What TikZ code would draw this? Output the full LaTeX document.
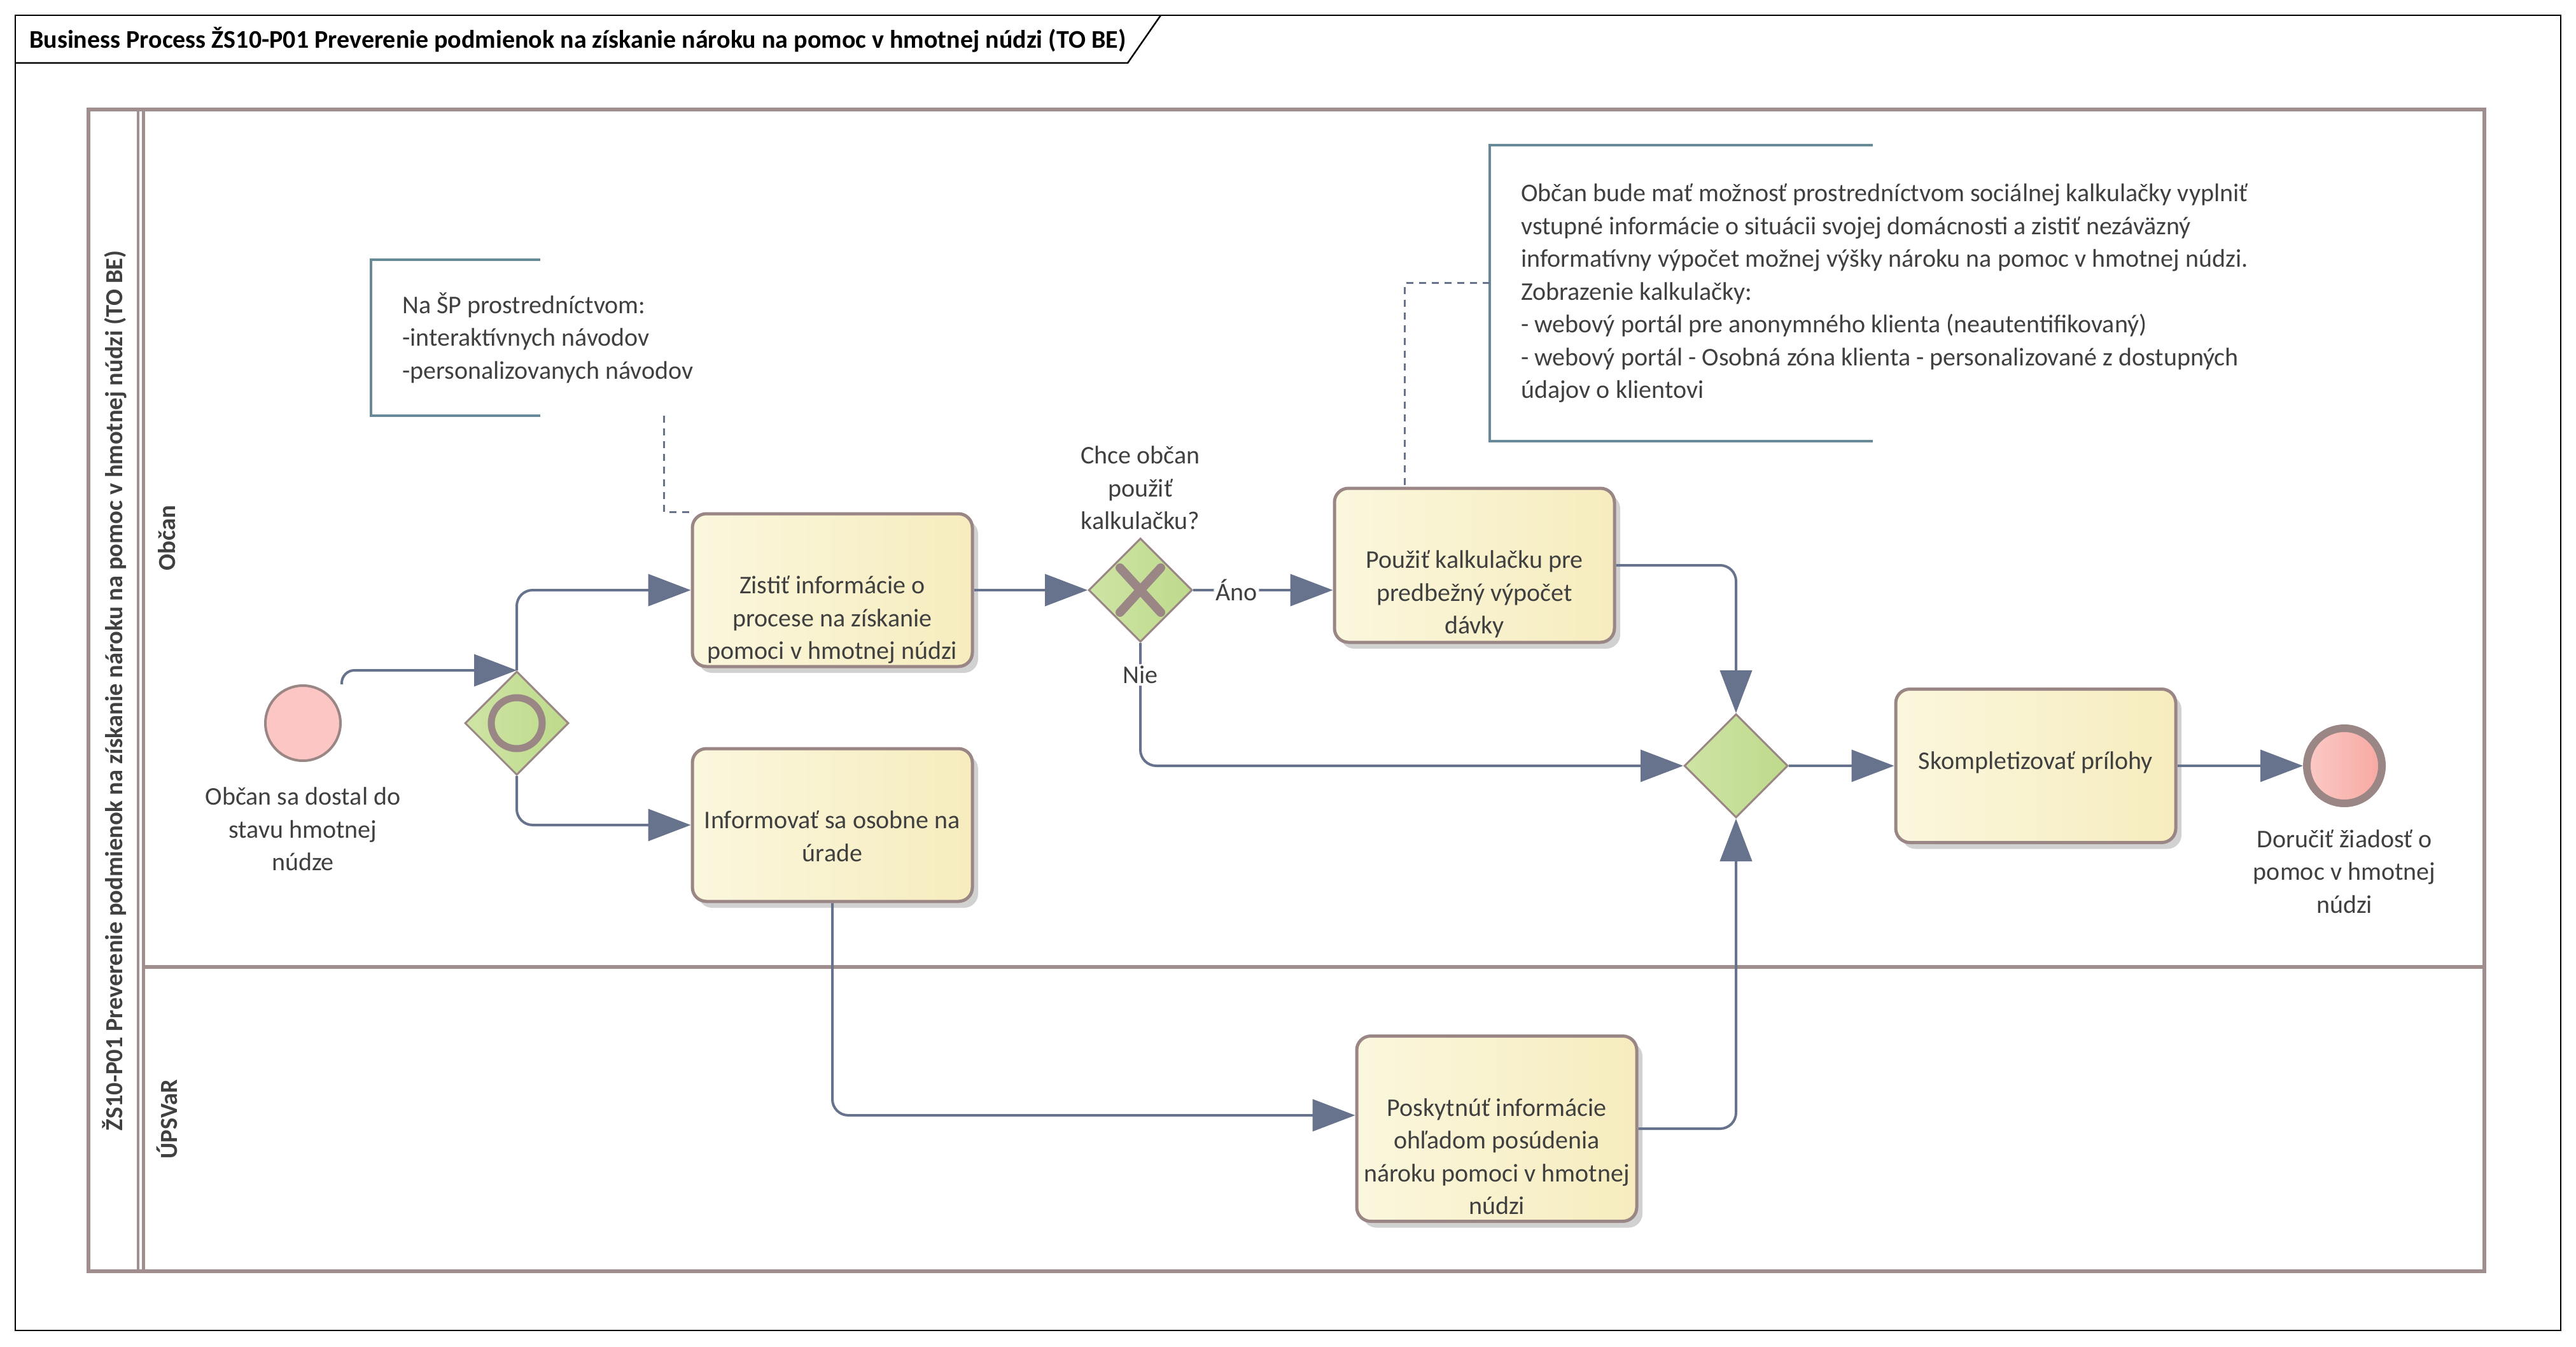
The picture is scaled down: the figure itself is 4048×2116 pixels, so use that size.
\documentclass[tikz,border=0pt]{standalone}
\usepackage{fontspec}
\setmainfont{Carlito}
\usetikzlibrary{arrows.meta,positioning,shapes.geometric,shadows}

\definecolor{flowline}{RGB}{103,114,140}
\definecolor{shapeline}{RGB}{155,134,134}
\definecolor{poolline}{RGB}{160,142,142}
\definecolor{noteline}{RGB}{104,138,152}
\definecolor{labeltext}{RGB}{64,64,64}
\definecolor{taskleft}{RGB}{251,247,221}
\definecolor{taskright}{RGB}{246,236,190}
\definecolor{gwleft}{RGB}{206,228,164}
\definecolor{gwright}{RGB}{190,218,140}
\definecolor{startfill}{RGB}{251,198,196}
\definecolor{endleft}{RGB}{251,202,198}
\definecolor{endright}{RGB}{247,168,162}

\tikzset{
  txt/.style={font=\fontsize{40}{51.5}\selectfont, text=labeltext},
  task/.style={draw=shapeline, line width=5pt, rounded corners=22pt, left color=taskleft, right color=taskright,
    minimum width=440pt, drop shadow={shadow xshift=9pt, shadow yshift=-10pt, fill=black!18, opacity=1}},
  tasktext/.style={txt, anchor=north, align=center, inner sep=0pt},
  gateway/.style={diamond, draw=shapeline, line width=3pt, left color=gwleft, right color=gwright,
    minimum size=163pt, inner sep=0pt},
  gwmark/.style={draw=shapeline, line width=11pt},
  evlabel/.style={txt, align=center, inner sep=0pt},
  flow/.style={draw=flowline, line width=4pt, rounded corners=25pt, -{Triangle[length=67pt, width=50pt]}},
  flowlabel/.style={txt, fill=white, inner sep=3pt},
  assoc/.style={draw=flowline, line width=3pt, dash pattern=on 11pt off 9pt},
  notebox/.style={txt, align=left, inner xsep=49pt, inner ysep=0pt, anchor=north west},
  notebrk/.style={draw=noteline, line width=4pt},
  poolbox/.style={draw=poolline, line width=6pt},
  lanename/.style={font=\fontsize{38.5}{46}\selectfont\bfseries, text=labeltext, rotate=90},
}

\begin{document}
\begin{tikzpicture}[x=1pt, y=-1pt]
  \useasboundingbox (0,0) rectangle (4048,2116);
  \fill[white] (0,0) rectangle (4048,2116);

  \draw[line width=2.5pt] (24,24) rectangle (4024,2090);
  \draw[line width=2.5pt] (24,99) -- (1772,99) -- (1824,24);
  \node[font=\fontsize{40}{46}\selectfont\bfseries, anchor=west, inner sep=0pt] (title) at (46,62)
    {Business Process ŽS10-P01 Preverenie podmienok na získanie nároku na pomoc v hmotnej núdzi (TO BE)};

  \draw[poolbox] (139,172) rectangle (3904,1997);
  \draw[poolbox, line width=4pt] (217,172) -- (217,1997);
  \draw[poolbox, line width=5pt] (225,172) -- (225,1997);
  \draw[poolbox] (225,1519) -- (3904,1519);
  \node[lanename] (poolname) at (180,1085)
    {ŽS10-P01 Preverenie podmienok na získanie nároku na pomoc v hmotnej núdzi (TO BE)};
  \node[lanename] (obcan) at (262,845) {Občan};
  \node[lanename] (upsvar) at (262,1758) {ÚPSVaR};

  \node[notebox, minimum height=245pt] (note1) at (583,408)
    {Na ŠP prostredníctvom:\\-interaktívnych návodov\\-personalizovanych návodov};
  \draw[notebrk] ([xshift=266pt]note1.north west) -- (note1.north west) -- (note1.south west)
    -- ([xshift=266pt]note1.south west);
  \node[notebox, minimum height=465pt] (note2) at (2341,228)
    {Občan bude mať možnosť prostredníctvom sociálnej kalkulačky vyplniť\\
     vstupné informácie o situácii svojej domácnosti a zistiť nezáväzný\\
     informatívny výpočet možnej výšky nároku na pomoc v hmotnej núdzi.\\
     Zobrazenie kalkulačky:\\
     - webový portál pre anonymného klienta (neautentifikovaný)\\
     - webový portál - Osobná zóna klienta - personalizované z dostupných\\
     údajov o klientovi};
  \draw[notebrk] ([xshift=602pt]note2.north west) -- (note2.north west) -- (note2.south west)
    -- ([xshift=602pt]note2.south west);

  \node[circle, draw=shapeline, line width=4pt, fill=startfill, minimum size=118pt, inner sep=0pt] (start) at (476,1136) {};
  \node[evlabel, below=40pt of start] (startlabel) {Občan sa dostal do\\stavu hmotnej\\núdze};

  \node[gateway] (gw1) at (812,1136) {};
  \draw[gwmark] (gw1.center) circle (40pt);

  \node[task, minimum height=240pt] (zistit) at (1308,927) {};
  \node[tasktext] at ([yshift=-92pt]zistit.north) {\strut Zistiť informácie o\\procese na získanie\\pomoci v hmotnej núdzi};
  \node[task, minimum height=240pt] (informovat) at (1308,1296) {};
  \node[tasktext] at ([yshift=-92pt]informovat.north) {\strut Informovať sa osobne na\\úrade};

  \node[gateway] (gw2) at (1792,927) {};
  \draw[gwmark, line width=14pt, line cap=round] ([shift={(-32,-35)}]gw2.center) -- ([shift={(32,35)}]gw2.center);
  \draw[gwmark, line width=14pt, line cap=round] ([shift={(-32,35)}]gw2.center) -- ([shift={(32,-35)}]gw2.center);
  \node[evlabel, above=12pt of gw2] (gw2label) {Chce občan\\použiť\\kalkulačku?};

  \node[task, minimum height=242pt] (pouzit) at (2317,888) {};
  \node[tasktext] at ([yshift=-92pt]pouzit.north) {\strut Použiť kalkulačku pre\\predbežný výpočet\\dávky};

  \node[gateway] (gw3) at (2728,1203) {};

  \node[task, minimum height=241pt] (kompletizovat) at (3199,1203) {};
  \node[tasktext] at ([yshift=-92pt]kompletizovat.north) {\strut Skompletizovať prílohy};

  \node[circle, draw=shapeline, line width=12pt, left color=endleft, right color=endright, minimum size=118pt, inner sep=0pt] (finish) at (3684,1203) {};
  \node[evlabel, below=35pt of finish] (finishlabel) {Doručiť žiadosť o\\pomoc v hmotnej\\núdzi};

  \node[task, minimum height=291pt] (poskytnut) at (2352,1773) {};
  \node[tasktext] at ([yshift=-92pt]poskytnut.north) {\strut Poskytnúť informácie\\ohľadom posúdenia\\nároku pomoci v hmotnej\\núdzi};

  \draw[assoc] ([xshift=460pt]note1.south west) |- (zistit.north west);
  \draw[assoc] ([yshift=16pt]note2.west) -| ([xshift=-110pt]pouzit.north);

  \draw[flow, rounded corners=20pt] (start.east |- start.north) |- (gw1.north);
  \draw[flow] (gw1.north) |- (zistit.west);
  \draw[flow] (gw1.south) |- (informovat.west);
  \draw[flow] (zistit.east) -- (gw2.west);
  \draw[flow] (gw2.east) -- node[flowlabel, pos=0.31] (ano) {Áno} (pouzit.west |- gw2.east);
  \draw[flow] (gw2.south) |- node[flowlabel, pos=0.13] (nie) {Nie} (gw3.west);
  \draw[flow] (pouzit.east) -| (gw3.north);
  \draw[flow] (informovat.south) |- ([yshift=21pt]poskytnut.west);
  \draw[flow] (poskytnut.east) -| (gw3.south);
  \draw[flow] (gw3.east) -- (kompletizovat.west);
  \draw[flow] (kompletizovat.east) -- (finish.west);
\end{tikzpicture}
\end{document}
